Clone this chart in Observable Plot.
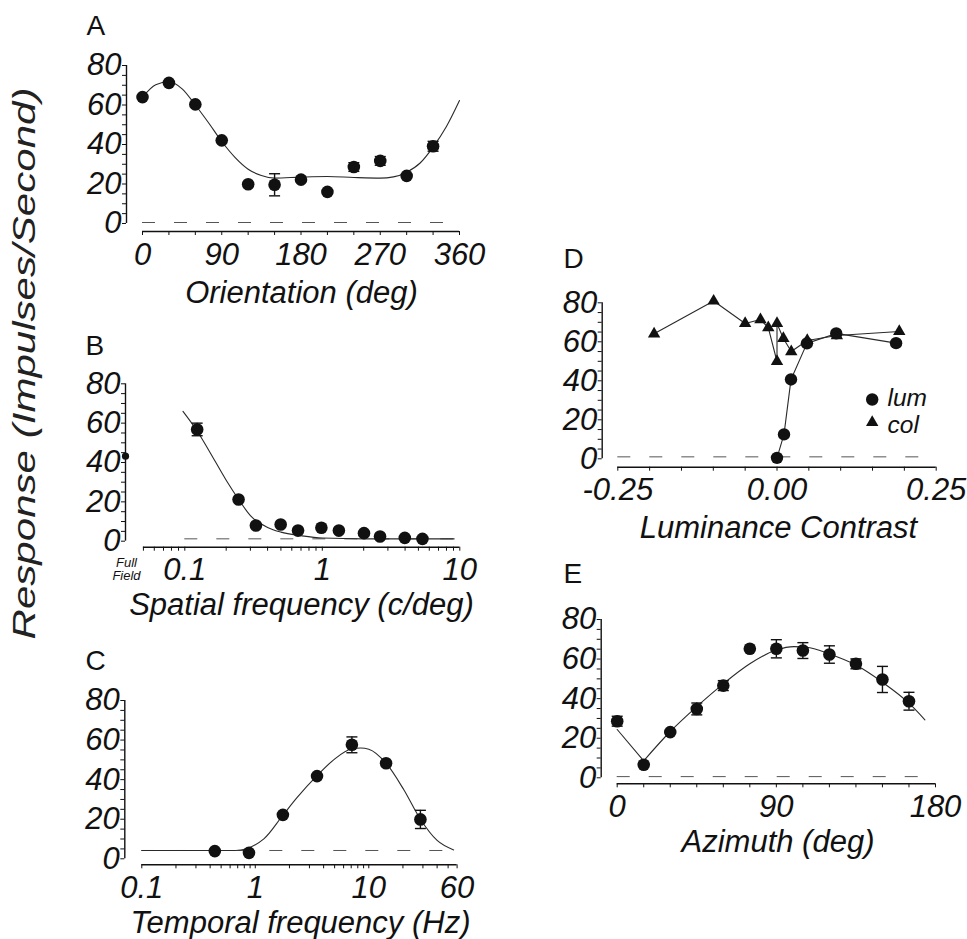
<!DOCTYPE html>
<html>
<head>
<meta charset="utf-8">
<script src="https://cdn.jsdelivr.net/npm/d3@7"></script>
<script src="https://cdn.jsdelivr.net/npm/@observablehq/plot@0.6"></script>
<style>
  html, body { margin: 0; padding: 0; background: #fff; }
  #figure { position: relative; width: 967px; height: 939px; overflow: hidden; background: #fff; }
  #figure svg { position: absolute; left: 0; top: 0; }
</style>
</head>
<body>
<div id="figure"></div>
<script>
// ================= DATA =================
// Shared response axis
const yTickLabels = [0, 20, 40, 60, 80];
const yMinorTicks = [0, 5, 10, 15, 20, 25, 30, 35, 40, 45, 50, 55, 60, 65, 70, 75, 80];
const yTitle = "Response (Impulses/Second)";

// Panel A — orientation
const orientDeg  = [0, 30, 60, 90, 120, 150, 180, 210, 240, 270, 300, 330];
const orientResp = [64, 71.2, 60.3, 42.1, 19.9, 19.6, 22.2, 16, 28.6, 31.7, 24.1, 39.1];
const orientErr  = [0, 0, 0, 0, 0, 5.6, 0, 0, 2.2, 2.2, 0, 2.5];
const orientFitDeg  = [0, 15, 30, 45, 60, 75, 90, 105, 120, 135, 150, 180, 210, 240, 270, 285, 300, 315, 330, 345, 360];
const orientFitResp = [64, 70.3, 71.8, 68.2, 60, 51, 41.5, 33.5, 27.5, 24.3, 23, 23.5, 23.8, 23.3, 23, 23.6, 26, 30.5, 38.7, 49, 62.3];
const orientSpont = 0.5;
const orientSpontRange = [0, 342];
const orientTicks = [0, 30, 60, 90, 120, 150, 180, 210, 240, 270, 300, 330, 360];
const orientTickLabels = [0, 90, 180, 270, 360];

// Panel B — spatial frequency
const sfFreq = [0.123, 0.246, 0.329, 0.498, 0.666, 0.985, 1.32, 2.01, 2.63, 3.98, 5.35];
const sfResp = [56.8, 21.2, 8.0, 8.5, 5.4, 6.8, 5.4, 4.1, 2.4, 1.7, 1.2];
const sfErr  = [3.2, 0, 0, 0, 0, 0, 0, 0, 0, 0, 0];
const sfFullField = [43.2];
const sfFitFreq = [0.097, 0.123, 0.15, 0.2, 0.246, 0.3, 0.4, 0.5, 0.7, 1, 2, 9.1];
const sfFitResp = [66, 56, 46, 31, 21.3, 13, 7, 4.6, 2.8, 1.6, 1.2, 1.2];
const sfSpont = 1.2;
const sfSpontRange = [0.1, 9];
const sfTicks = [0.05, 0.06, 0.07, 0.08, 0.09, 0.1, 0.2, 0.3, 0.4, 0.5, 0.6, 0.7, 0.8, 0.9, 1, 2, 3, 4, 5, 6, 7, 8, 9, 10];
const sfTickLabels = [0.1, 1, 10];

// Panel C — temporal frequency
const tfFreq = [0.44, 0.88, 1.75, 3.5, 7.1, 14.2, 28.5];
const tfResp = [3.9, 3.0, 22.2, 41.8, 57.6, 48.3, 19.9];
const tfErr  = [0, 0, 0, 0, 4, 0, 4.6];
const tfFitFreq = [0.1, 0.67, 1.19, 1.75, 2.34, 3.5, 4.9, 7.1, 8.5, 10, 14.2, 20.3, 28.5, 40, 56];
const tfFitResp = [4.2, 4.2, 10.1, 22, 31, 42, 50, 55.6, 56, 55.4, 48.3, 35, 20, 9.3, 4.5];
const tfSpont = 4.2;
const tfSpontRange = [0.1, 56];
const tfTicks = [0.1, 0.2, 0.3, 0.4, 0.5, 0.6, 0.7, 0.8, 0.9, 1, 2, 3, 4, 5, 6, 7, 8, 9, 10, 20, 30, 40, 50, 60];
const tfTickLabels = [0.1, 1, 10, 60];

// Panel D — luminance contrast
const lumContrast = [0, 0.011, 0.022, 0.047, 0.093, 0.187];
const lumResp     = [0.5, 12.5, 40.7, 59.2, 64.3, 59.3];
const colContrast = [-0.193, -0.0995, -0.050, -0.026, -0.0137, 0, 0, 0.01, 0.0224, 0.0475, 0.094, 0.192];
const colResp     = [64.1, 80.9, 69.4, 71.4, 67.3, 49.9, 69.4, 61.7, 55, 60.7, 63.2, 65.3];
const contrastSpont = 1;
const contrastSpontRange = [-0.25, 0.225];
const contrastTicks = [-0.25, -0.2, -0.15, -0.1, -0.05, 0, 0.05, 0.1, 0.15, 0.2, 0.25];
const contrastTickLabels = [-0.25, 0, 0.25];
const legendLabels = ["lum", "col"];

// Panel E — azimuth
const aziDeg  = [0, 15, 30, 45, 60, 75, 90, 105, 120, 135, 150, 165];
const aziResp = [28.6, 6.6, 23.1, 34.8, 46.6, 65.2, 65.2, 64.3, 62.3, 57.6, 49.7, 38.7];
const aziErr  = [2.5, 0, 0, 3, 2.5, 0, 4.6, 4, 4.4, 2.5, 6.6, 4.5];
const aziFitDeg  = [0, 15, 30, 45, 60, 75, 90, 100, 107, 120, 135, 150, 165, 174];
const aziFitResp = [24.4, 8.6, 23.4, 36, 47.5, 57.6, 64.6, 66.3, 66, 62.6, 57, 48.3, 37.7, 29.3];
const aziSpont = 0.6;
const aziSpontRange = [0, 173];
const aziTicks = [0, 15, 30, 45, 60, 75, 90, 105, 120, 135, 150, 165, 180];
const aziTickLabels = [0, 90, 180];

// ================= LAYOUT =================
const W = 967, H = 939;
const FONT = '"Liberation Sans", Arial, Helvetica, sans-serif';
const INK = "#111";
const LINE = "#2a2a2a";
const TICKFONT = 31;

const zip = (xs, ys, es) => xs.map((x, i) => ({x, y: ys[i], e: es ? es[i] : 0}));

const capSymbol = {
  draw(ctx, size) { const w = Math.sqrt(size / Math.PI); ctx.moveTo(-w, 0); ctx.lineTo(w, 0); }
};

// page geometry: y-axis line x, frame right, pixel of y=80 / y=0, x-axis line y, two x anchors (value, px)
const G = {
  A: {left: 126,   right: 460,   top: 65,    zero: 223,   bottom: 231,   x0: [0, 142],       x1: [360, 459],    type: "linear"},
  B: {left: 125,   right: 460,   top: 383.3, zero: 540.7, bottom: 546.7, x0: [0.1, 184.3],   x1: [10, 459.3],   type: "log"},
  C: {left: 124.3, right: 458,   top: 700,   zero: 858.3, bottom: 864.3, x0: [0.1, 141.3],   x1: [60, 456.6],   type: "log"},
  D: {left: 601.7, right: 936.5, top: 302.3, zero: 458.3, bottom: 466.7, x0: [-0.25, 617.3], x1: [0.25, 935.7], type: "linear"},
  E: {left: 600.7, right: 936,   top: 619,   zero: 777.3, bottom: 783.3, x0: [0, 616.7],     x1: [180, 935],    type: "linear"}
};

function xScaleOf(g) {
  if (g.type === "log") {
    const l0 = Math.log10(g.x0[0]), l1 = Math.log10(g.x1[0]);
    const k = (g.x1[1] - g.x0[1]) / (l1 - l0);
    return {type: "log", domain: [Math.pow(10, l0 - (g.x0[1] - g.left) / k), Math.pow(10, l1 + (g.right - g.x1[1]) / k)]};
  }
  const k = (g.x1[1] - g.x0[1]) / (g.x1[0] - g.x0[0]);
  return {type: "linear", domain: [g.x0[0] - (g.x0[1] - g.left) / k, g.x1[0] + (g.right - g.x1[1]) / k]};
}
function yScaleOf(g) {
  const top = yTickLabels[yTickLabels.length - 1];
  const k = (g.zero - g.top) / top;
  return {type: "linear", domain: [-(g.bottom - g.zero) / k, top]};
}

function panel(g, s) {
  const xs = xScaleOf(g), ys = yScaleOf(g);
  const xLo = xs.domain[0], yLo = ys.domain[0];
  const fmt = s.fmt || (d => String(d));
  const txt = (str, px, py, o = {}) => Plot.text([str], {
    frameAnchor: "top-left", dx: px - g.left, dy: py - g.top,
    lineAnchor: "middle", fontSize: TICKFONT, fill: INK, fontFamily: FONT, ...o
  });
  const marks = [
    Plot.ruleX([xLo], {y1: yTickLabels[0], y2: yTickLabels[yTickLabels.length - 1], stroke: INK, strokeWidth: 1.4}),
    Plot.ruleY([yLo], {x1: s.xTicks[0], x2: s.xTicks[s.xTicks.length - 1], stroke: INK, strokeWidth: 1.6}),
    Plot.axisY({ticks: yMinorTicks, tickSize: 4, tickFormat: () => "", label: null, stroke: INK}),
    Plot.axisY({ticks: yTickLabels, tickSize: 0, tickPadding: 5, tickFormat: d => String(d), label: null,
                fontSize: TICKFONT, fontStyle: "italic", fill: INK}),
    Plot.axisX({ticks: s.xTicks, tickSize: 4, tickFormat: () => "", label: null, stroke: INK}),
    // x tick labels, hung just below the x-axis line
    Plot.text(s.xTickLabels, {x: d => d, text: fmt, frameAnchor: "bottom", dy: 11, lineAnchor: "top",
                textAnchor: "middle", fontSize: TICKFONT, fontStyle: "italic", fill: INK, fontFamily: FONT}),
    Plot.ruleY([s.spont], {x1: s.spontRange[0], x2: s.spontRange[1], stroke: "#555", strokeWidth: 1, strokeDasharray: "13 19"})
  ];
  if (s.fit) marks.push(...s.fit);
  if (s.pts) {
    const errs = s.pts.filter(d => d.e > 0);
    marks.push(
      Plot.ruleX(errs, {x: "x", y1: d => d.y - d.e, y2: d => d.y + d.e, stroke: INK, strokeWidth: 1.4}),
      Plot.dot(errs, {x: "x", y: d => d.y + d.e, symbol: capSymbol, r: 5.5, fill: "none", stroke: INK, strokeWidth: 1.4}),
      Plot.dot(errs, {x: "x", y: d => d.y - d.e, symbol: capSymbol, r: 5.5, fill: "none", stroke: INK, strokeWidth: 1.4}),
      Plot.dot(s.pts, {x: "x", y: "y", r: 6.3, fill: INK})
    );
  }
  if (s.extra) marks.push(...s.extra);
  marks.push(txt(s.letter, s.letterPos[0], s.letterPos[1], {textAnchor: "start", fontSize: 28, fontStyle: "normal"}));
  marks.push(txt(s.title, s.titlePos[0], s.titlePos[1], {textAnchor: "middle", fontSize: 31, fontStyle: "italic"}));
  if (s.texts) s.texts.forEach(t => marks.push(txt(t[0], t[1], t[2], t[3])));

  const svg = Plot.plot({
    width: W, height: H,
    marginLeft: g.left, marginRight: W - g.right, marginTop: g.top, marginBottom: H - g.bottom,
    x: xs, y: ys,
    style: {background: "transparent", overflow: "visible", fontFamily: FONT, fontSize: TICKFONT + "px", color: INK},
    marks
  });
  svg.style.position = "absolute";
  svg.style.left = "0px";
  svg.style.top = "0px";
  return svg;
}

const fig = document.getElementById("figure");
const fitLine = (data, curve) => Plot.line(data, {x: "x", y: "y", curve, stroke: LINE, strokeWidth: 1.1});

// ---- A
const svgA = panel(G.A, {
  letter: "A", letterPos: [86, 26],
  title: "Orientation (deg)", titlePos: [301, 293],
  xTicks: orientTicks, xTickLabels: orientTickLabels,
  spont: orientSpont, spontRange: orientSpontRange,
  fit: [fitLine(zip(orientFitDeg, orientFitResp), "monotone-x")],
  pts: zip(orientDeg, orientResp, orientErr),
  texts: [[yTitle, 25, 363, {rotate: -90, textAnchor: "middle", fontSize: 31, fontStyle: "italic", fill: "#222"}]]
});
fig.appendChild(svgA);
// the scanned figure's side title is drawn stretched along its length
d3.select(svgA).selectAll("text").filter(function () { return this.textContent === yTitle; })
  .attr("textLength", 552).attr("lengthAdjust", "spacingAndGlyphs");

// ---- B
fig.appendChild(panel(G.B, {
  letter: "B", letterPos: [85, 345.5],
  title: "Spatial frequency (c/deg)", titlePos: [301, 605],
  xTicks: sfTicks, xTickLabels: sfTickLabels,
  spont: sfSpont, spontRange: sfSpontRange,
  fit: [fitLine(zip(sfFitFreq, sfFitResp), "monotone-x")],
  pts: zip(sfFreq, sfResp, sfErr),
  extra: [Plot.dot(sfFullField, {y: d => d, frameAnchor: "left", r: 3.6, fill: INK})],
  texts: [["Full", 126, 562, {textAnchor: "middle", fontSize: 13, fontStyle: "italic"}],
          ["Field", 126, 575.5, {textAnchor: "middle", fontSize: 13, fontStyle: "italic"}]]
}));

// ---- C
fig.appendChild(panel(G.C, {
  letter: "C", letterPos: [85, 660.5],
  title: "Temporal frequency (Hz)", titlePos: [300, 922.5],
  xTicks: tfTicks, xTickLabels: tfTickLabels,
  spont: tfSpont, spontRange: tfSpontRange,
  fit: [fitLine(zip(tfFitFreq, tfFitResp), "monotone-x")],
  pts: zip(tfFreq, tfResp, tfErr)
}));

// ---- D
const lumPts = zip(lumContrast, lumResp);
const colPts = zip(colContrast, colResp);
fig.appendChild(panel(G.D, {
  letter: "D", letterPos: [563, 258.5],
  title: "Luminance Contrast", titlePos: [778, 528],
  xTicks: contrastTicks, xTickLabels: contrastTickLabels, fmt: d => d.toFixed(2),
  spont: contrastSpont, spontRange: contrastSpontRange,
  fit: [
    Plot.line(colPts, {x: "x", y: "y", stroke: LINE, strokeWidth: 1.1}),
    Plot.line(lumPts, {x: "x", y: "y", stroke: LINE, strokeWidth: 1.1})
  ],
  extra: [
    Plot.dot(colPts, {x: "x", y: "y", symbol: "triangle", r: 4.6, fill: INK}),
    Plot.dot(lumPts, {x: "x", y: "y", r: 6.2, fill: INK}),
    Plot.dot([legendLabels[0]], {frameAnchor: "top-left", dx: 871.7 - G.D.left, dy: 399 - G.D.top, r: 6.2, fill: INK}),
    Plot.dot([legendLabels[1]], {frameAnchor: "top-left", dx: 871.7 - G.D.left, dy: 422 - G.D.top, symbol: "triangle", r: 4.6, fill: INK})
  ],
  texts: [[legendLabels[0], 887, 397.5, {textAnchor: "start", fontSize: 24.5, fontStyle: "italic"}],
          [legendLabels[1], 887, 424.5, {textAnchor: "start", fontSize: 24.5, fontStyle: "italic"}]]
}));

// ---- E
const aziFit = zip(aziFitDeg, aziFitResp);
fig.appendChild(panel(G.E, {
  letter: "E", letterPos: [563, 573.5],
  title: "Azimuth (deg)", titlePos: [777.5, 842],
  xTicks: aziTicks, xTickLabels: aziTickLabels,
  spont: aziSpont, spontRange: aziSpontRange,
  fit: [fitLine(aziFit.slice(0, 2), "linear"), fitLine(aziFit.slice(1), "monotone-x")],
  pts: zip(aziDeg, aziResp, aziErr)
}));
</script>
</body>
</html>
